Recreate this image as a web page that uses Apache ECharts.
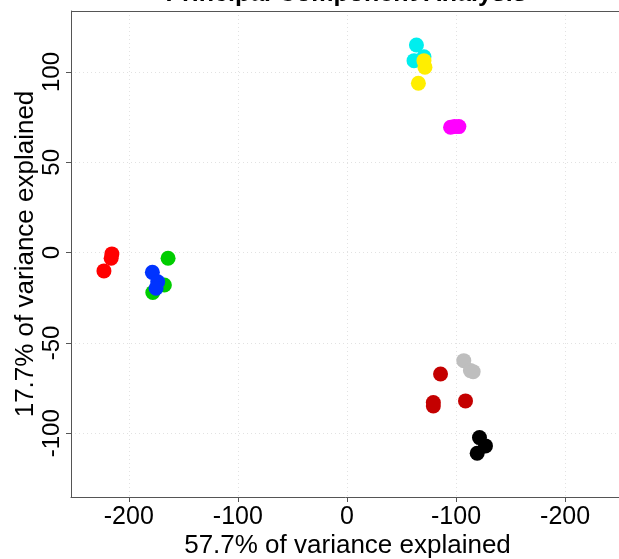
<!DOCTYPE html>
<html>
<head>
<meta charset="utf-8">
<script src="https://cdn.jsdelivr.net/npm/echarts@6/dist/echarts.min.js"></script>
<style>
  html, body { margin: 0; padding: 0; background: #fff; }
  #chart { width: 619px; height: 559px; }
</style>
</head>
<body>
<div id="chart"></div>
<script>
// PCA scores per group: [PC1, PC2]
const groupNames = ['red', 'green', 'blue', 'cyan', 'yellow', 'magenta', 'gray', 'darkred', 'black'];
const groupColors = ['#FF0000', '#00CD00', '#0033FF', '#00EEEE', '#FFEE00', '#FF00FF', '#BEBEBE', '#C40000', '#000000'];
const redPts = [[-215.5, -0.7], [-216.2, -3.1], [-222.8, -10.1]];
const greenPts = [[-164, -3.1], [-167.4, -17.9], [-178, -22.1]];
const bluePts = [[-178.4, -10.9], [-173.5, -16.1], [-175, -19.7]];
const cyanPts = [[63.7, 115], [61.5, 106.3], [70.6, 108.5]];
const yellowPts = [[70.6, 106.3], [71.5, 102.7], [65.5, 93.8]];
const magentaPts = [[95, 69.4], [102.6, 69.8], [98.6, 69.8]];
const grayPts = [[107.1, -59.8], [113.2, -65.3], [115.7, -65.9]];
const darkredPts = [[85.8, -67.2], [79.2, -83], [79.2, -84.9], [108.7, -82.1]];
const blackPts = [[121.5, -102.4], [127, -107], [119.4, -111.1]];
const allGroups = [redPts, greenPts, bluePts, cyanPts, yellowPts, magentaPts, grayPts, darkredPts, blackPts];

const xTicks = [-200, -100, 0, 100, 200];
const yTicks = [-100, -50, 0, 50, 100];

const chart = echarts.init(document.getElementById('chart'));
const font = 'Liberation Sans, Arial, sans-serif';

chart.setOption({
  animation: false,
  grid: { left: 71, top: 11, right: -5, bottom: 62, containLabel: false, outerBoundsMode: 'none' },
  xAxis: {
    type: 'value', min: -253, max: 254,
    name: '57.7% of variance explained', nameLocation: 'middle', nameGap: 36, nameMoveOverlap: false,
    nameTextStyle: { fontFamily: font, fontSize: 26, color: '#000' },
    axisLine: { show: true, onZero: false, lineStyle: { color: '#555', width: 1 } },
    axisTick: { show: true, customValues: xTicks, length: 5, lineStyle: { color: '#555' } },
    axisLabel: {
      customValues: xTicks, fontFamily: font, fontSize: 25, color: '#000', margin: 8,
      formatter: v => (v === 0 ? '0' : String(-Math.abs(v)))
    },
    splitLine: { show: true, lineStyle: { color: '#e2e2e2', type: [1, 3] } }
  },
  yAxis: {
    type: 'value', min: -135.3, max: 133.8,
    name: '17.7% of variance explained', nameLocation: 'middle', nameGap: 32, nameMoveOverlap: false,
    nameTextStyle: { fontFamily: font, fontSize: 26, color: '#000' },
    axisLine: { show: true, onZero: false, lineStyle: { color: '#555', width: 1 } },
    axisTick: { show: true, customValues: yTicks, length: 5, lineStyle: { color: '#555' } },
    axisLabel: { customValues: yTicks, rotate: 90, fontFamily: font, fontSize: 24, color: '#000', margin: 7 },
    splitLine: { show: true, lineStyle: { color: '#e2e2e2', type: [1, 3] } }
  },
  series: allGroups.map((pts, i) => ({
    name: groupNames[i], type: 'scatter', data: pts,
    symbol: 'circle', symbolSize: 15,
    itemStyle: { color: groupColors[i], opacity: 1 }
  }))
});

// title (cut off at the top) and top frame line; right edge lies outside the view
const tl = chart.convertToPixel('grid', [-253, 133.8]);
chart.setOption({ graphic: [
  {
    id: 'title', type: 'text', x: 346, y: -18,
    style: { text: 'Principal Component Analysis', font: 'bold 25px ' + font, fill: '#000', align: 'center', verticalAlign: 'top' }
  },
  {
    id: 'topline', type: 'line', shape: { x1: tl[0], y1: tl[1] + 0.5, x2: 619, y2: tl[1] + 0.5 },
    style: { stroke: '#555', lineWidth: 1 }
  }
]});
</script>
</body>
</html>
